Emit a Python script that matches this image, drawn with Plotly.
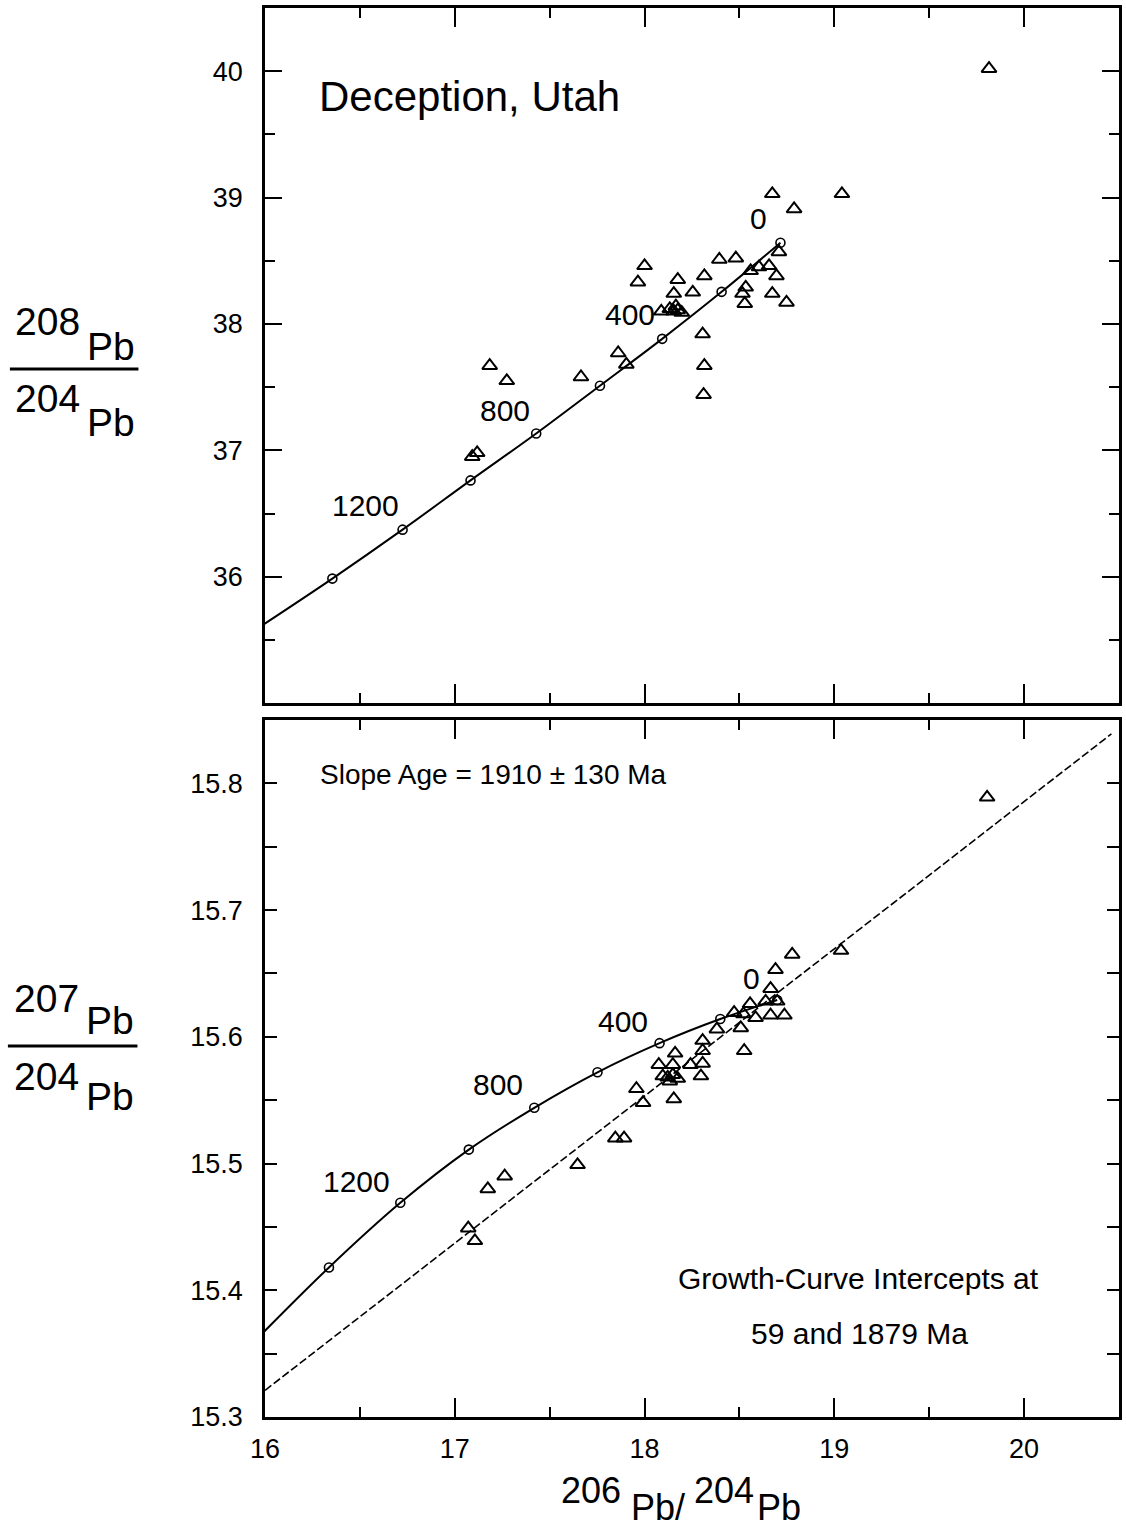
import plotly.graph_objects as go

# ---------------- data ----------------
ages = [0, 200, 400, 600, 800, 1000, 1200, 1400]
ages_line = [0, 200, 400, 600, 800, 1000, 1200, 1400, 1600]

# growth curve, 208/204 vs 206/204
gc_top_x = [18.716, 18.406, 18.093, 17.765, 17.429, 17.083, 16.725, 16.355, 15.970]
gc_top_y = [38.643, 38.254, 37.882, 37.511, 37.133, 36.762, 36.372, 35.985, 35.600]

# growth curve, 207/204 vs 206/204
gc_bot_x = [18.699, 18.399, 18.079, 17.752, 17.419, 17.074, 16.713, 16.337, 15.960]
gc_bot_y = [15.629, 15.614, 15.595, 15.572, 15.544, 15.511, 15.469, 15.418, 15.362]

# isochron (slope age line) end values
iso_x = [16.0, 20.46]
iso_y = [15.321, 15.839]

# samples, 208/204
top_x = [19.815, 18.673, 18.788, 19.040, 18.708, 18.000, 17.965, 18.175, 18.154,
         18.315, 18.254, 18.394, 18.481, 18.559, 18.603, 18.656, 18.695, 18.533,
         18.516, 18.528, 18.673, 18.748, 18.088, 18.133, 18.154, 18.175, 18.196,
         18.165, 18.306, 18.315, 18.311, 17.861, 17.904, 17.665, 17.184, 17.274,
         17.092, 17.118]
top_y = [40.02, 39.03, 38.91, 39.03, 38.57, 38.46, 38.33, 38.35, 38.24,
         38.38, 38.25, 38.51, 38.52, 38.42, 38.45, 38.46, 38.38, 38.29,
         38.24, 38.16, 38.24, 38.17, 38.10, 38.12, 38.10, 38.11, 38.09,
         38.14, 37.92, 37.67, 37.44, 37.77, 37.68, 37.58, 37.67, 37.55,
         36.95, 36.98]

# samples, 207/204
bot_x = [19.805, 19.035, 18.778, 18.690, 18.664, 18.638, 18.699, 18.664, 18.737,
         18.585, 18.556, 18.521, 18.472, 18.507, 18.381, 18.525, 18.306, 18.306,
         18.306, 18.297, 18.242, 18.161, 18.149, 18.075, 18.096, 18.122, 18.149,
         18.175, 18.133, 18.154, 17.957, 17.992, 17.846, 17.892, 17.647, 17.263,
         17.174, 17.071, 17.106]
bot_y = [15.789, 15.668, 15.665, 15.653, 15.638, 15.628, 15.628, 15.617, 15.617,
         15.615, 15.626, 15.618, 15.619, 15.607, 15.606, 15.589, 15.597, 15.589,
         15.579, 15.569, 15.578, 15.587, 15.578, 15.578, 15.569, 15.568, 15.570,
         15.567, 15.565, 15.551, 15.559, 15.548, 15.520, 15.520, 15.499, 15.490,
         15.480, 15.449, 15.439]

x_ticks = [16, 17, 18, 19, 20]
top_y_ticks = [36, 37, 38, 39, 40]
bot_y_ticks = [15.3, 15.4, 15.5, 15.6, 15.7, 15.8]

age_labels = ["0", "400", "800", "1200"]
top_lab_x = [18.603, 17.922, 17.267, 16.529]
top_lab_y = [38.834, 38.073, 37.318, 36.563]
bot_lab_x = [18.563, 17.887, 17.228, 16.481]
bot_lab_y = [15.646, 15.612, 15.562, 15.486]

# ---------------- figure ----------------
FONT = "Liberation Sans, Arial, sans-serif"

fig = go.Figure()

tri = dict(symbol="triangle-up-open", size=13, color="black", line=dict(width=2, color="black"))
circ = dict(symbol="circle-open", size=9, color="black", line=dict(width=1.6, color="black"))

# top panel
fig.add_trace(go.Scatter(x=gc_top_x, y=gc_top_y, mode="lines", line=dict(color="black", width=2, shape="spline"),
                         xaxis="x2", yaxis="y2", hoverinfo="skip"))
fig.add_trace(go.Scatter(x=gc_top_x[:len(ages)], y=gc_top_y[:len(ages)], mode="markers", marker=circ,
                         xaxis="x2", yaxis="y2", text=ages))
fig.add_trace(go.Scatter(x=top_x, y=top_y, mode="markers", marker=tri, xaxis="x2", yaxis="y2"))

# bottom panel
fig.add_trace(go.Scatter(x=gc_bot_x, y=gc_bot_y, mode="lines", line=dict(color="black", width=2, shape="spline"),
                         xaxis="x", yaxis="y", hoverinfo="skip"))
fig.add_trace(go.Scatter(x=gc_bot_x[:len(ages)], y=gc_bot_y[:len(ages)], mode="markers", marker=circ,
                         xaxis="x", yaxis="y", text=ages))
fig.add_trace(go.Scatter(x=iso_x, y=iso_y, mode="lines", line=dict(color="black", width=1.6, dash="8px,3px"),
                         xaxis="x", yaxis="y", hoverinfo="skip"))
fig.add_trace(go.Scatter(x=bot_x, y=bot_y, mode="markers", marker=tri, xaxis="x", yaxis="y"))

axis_common = dict(showline=True, linecolor="black", linewidth=2.5, mirror="ticks", ticks="inside",
                   tickcolor="black", tickwidth=2, showgrid=False, zeroline=False,
                   tickfont=dict(family=FONT, size=27, color="black"))

fig.update_layout(
    width=1126, height=1532,
    margin=dict(l=265, r=4, t=8, b=115),
    paper_bgcolor="white", plot_bgcolor="white",
    showlegend=False,
    xaxis=dict(range=[16, 20.5], domain=[0, 1], anchor="y", tickvals=x_ticks, ticktext=[str(v) for v in x_ticks],
               ticklen=19, minor=dict(dtick=0.5, tick0=16, ticklen=10, ticks="inside", tickwidth=2, tickcolor="black"),
               ticklabelstandoff=6, **axis_common),
    xaxis2=dict(range=[16, 20.5], domain=[0, 1], anchor="y2", matches="x", tickvals=x_ticks, showticklabels=False,
                ticklen=19, minor=dict(dtick=0.5, tick0=16, ticklen=10, ticks="inside", tickwidth=2, tickcolor="black"),
                **axis_common),
    yaxis=dict(range=[15.3, 15.85], domain=[0, 0.4947], anchor="x", tickvals=bot_y_ticks,
               ticktext=[f"{v:.1f}" for v in bot_y_ticks], ticklen=12,
               minor=dict(dtick=0.05, tick0=15.3, ticklen=12, ticks="inside", tickwidth=2, tickcolor="black"),
               ticklabelstandoff=14, **axis_common),
    yaxis2=dict(range=[35, 40.5], domain=[0.5067, 1], anchor="x2", tickvals=top_y_ticks,
                ticktext=[str(v) for v in top_y_ticks], ticklen=17,
                minor=dict(dtick=0.5, tick0=35, ticklen=10, ticks="inside", tickwidth=2, tickcolor="black"),
                ticklabelstandoff=14, **axis_common),
)

ann = []
# age labels
for t, x, y in zip(age_labels, top_lab_x, top_lab_y):
    ann.append(dict(x=x, y=y, xref="x2", yref="y2", text=t, showarrow=False,
                    font=dict(family=FONT, size=30, color="black")))
for t, x, y in zip(age_labels, bot_lab_x, bot_lab_y):
    ann.append(dict(x=x, y=y, xref="x", yref="y", text=t, showarrow=False,
                    font=dict(family=FONT, size=30, color="black")))

ann.append(dict(x=17.080, y=39.798, xref="x2", yref="y2", text="Deception, Utah", showarrow=False,
                font=dict(family=FONT, size=42, color="black")))
ann.append(dict(x=17.205, y=15.807, xref="x", yref="y", text="Slope Age = 1910 ± 130 Ma", showarrow=False,
                font=dict(family=FONT, size=28, color="black")))
ann.append(dict(x=19.129, y=15.4095, xref="x", yref="y", text="Growth-Curve Intercepts at", showarrow=False,
                font=dict(family=FONT, size=30, color="black")))
ann.append(dict(x=19.134, y=15.366, xref="x", yref="y", text="59 and 1879 Ma", showarrow=False,
                font=dict(family=FONT, size=30, color="black")))

# pixel -> paper helpers for labels outside the plot area
L, R, T, B = 265, 1122, 8, 1417
def px(xp):
    return (xp - L) / (R - L)
def py(yp):
    return (B - yp) / (B - T)

def lab(xp, yp, text, size=39):
    ann.append(dict(x=px(xp), y=py(yp), xref="paper", yref="paper", text=text, showarrow=False,
                    xanchor="center", yanchor="middle", font=dict(family=FONT, size=size, color="black")))

# y axis label, top: 208Pb / 204Pb
lab(47, 322, "208"); lab(110, 347, "Pb")
lab(47, 398, "204"); lab(110, 422, "Pb")
# y axis label, bottom: 207Pb / 204Pb
lab(46, 998, "207"); lab(109, 1020, "Pb")
lab(46, 1076, "204"); lab(109, 1096, "Pb")
# x axis label: 206Pb/204Pb
lab(592, 1490, "206", 36); lab(659, 1507, "Pb/", 36)
lab(726, 1490, "204", 36); lab(781, 1507, "Pb", 36)

fig.update_layout(annotations=ann)

fig.add_shape(type="line", xref="paper", yref="paper", x0=px(9), x1=px(138), y0=py(369), y1=py(369),
              line=dict(color="black", width=3))
fig.add_shape(type="line", xref="paper", yref="paper", x0=px(7), x1=px(137), y0=py(1046), y1=py(1046),
              line=dict(color="black", width=3))

fig.write_html("out.html")
